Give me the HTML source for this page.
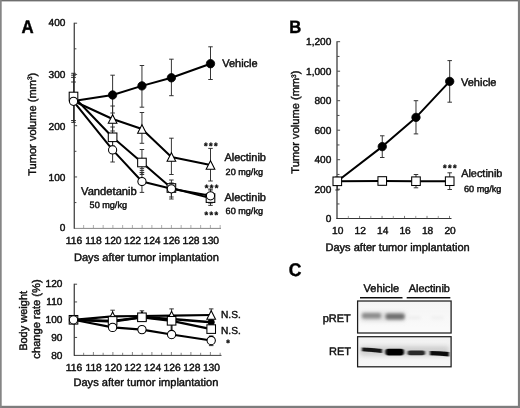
<!DOCTYPE html>
<html lang="en"><head><meta charset="utf-8"><title>Figure</title>
<style>html,body{margin:0;padding:0;background:#fff;}body{width:520px;height:408px;overflow:hidden;}svg{display:block;}text{font-family:"Liberation Sans", Arial, Helvetica, sans-serif;text-rendering:geometricPrecision;stroke:#0a0a0a;stroke-width:0.4px;}</style>
</head><body>
<svg width="520" height="408" viewBox="0 0 520 408">
<defs>
<filter id="b1" x="-30%" y="-100%" width="160%" height="300%"><feGaussianBlur stdDeviation="1.7 1.4"/></filter>
<filter id="b2" x="-30%" y="-100%" width="160%" height="300%"><feGaussianBlur stdDeviation="1.2 0.75"/></filter>
<linearGradient id="bg1" x1="0" y1="0" x2="0" y2="1"><stop offset="0" stop-color="#f4f4f4"/><stop offset="1" stop-color="#fbfbfb"/></linearGradient>
<linearGradient id="bg2" x1="0" y1="0" x2="0" y2="1"><stop offset="0" stop-color="#f1f1f1"/><stop offset="1" stop-color="#f7f7f7"/></linearGradient>
<filter id="soft" filterUnits="userSpaceOnUse" x="0" y="0" width="520" height="408"><feGaussianBlur stdDeviation="0.3"/></filter>
</defs>
<rect x="0" y="0" width="520" height="408" fill="#fff"/>
<line x1="74.25" y1="22.7" x2="74.25" y2="228.8" stroke="#2c2c2c" stroke-width="1.15"/>
<line x1="74" y1="228.4" x2="221" y2="228.4" stroke="#555" stroke-width="0.7"/>
<line x1="74.5" y1="202.575" x2="76.4" y2="202.575" stroke="#2a2a2a" stroke-width="0.85"/>
<line x1="74.5" y1="176.95" x2="77.1" y2="176.95" stroke="#2a2a2a" stroke-width="0.85"/>
<line x1="74.5" y1="151.325" x2="76.4" y2="151.325" stroke="#2a2a2a" stroke-width="0.85"/>
<line x1="74.5" y1="125.7" x2="77.1" y2="125.7" stroke="#2a2a2a" stroke-width="0.85"/>
<line x1="74.5" y1="100.075" x2="76.4" y2="100.075" stroke="#2a2a2a" stroke-width="0.85"/>
<line x1="74.5" y1="74.45" x2="77.1" y2="74.45" stroke="#2a2a2a" stroke-width="0.85"/>
<line x1="74.5" y1="48.825" x2="76.4" y2="48.825" stroke="#2a2a2a" stroke-width="0.85"/>
<line x1="74.5" y1="23.2" x2="77.1" y2="23.2" stroke="#2a2a2a" stroke-width="0.85"/>
<line x1="83.65" y1="228" x2="83.65" y2="225.0" stroke="#777" stroke-width="0.6"/>
<line x1="93.4" y1="228" x2="93.4" y2="225.0" stroke="#777" stroke-width="0.6"/>
<line x1="103.15" y1="228" x2="103.15" y2="225.0" stroke="#777" stroke-width="0.6"/>
<line x1="112.9" y1="228" x2="112.9" y2="225.0" stroke="#777" stroke-width="0.6"/>
<line x1="122.65" y1="228" x2="122.65" y2="225.0" stroke="#777" stroke-width="0.6"/>
<line x1="132.4" y1="228" x2="132.4" y2="225.0" stroke="#777" stroke-width="0.6"/>
<line x1="142.15" y1="228" x2="142.15" y2="225.0" stroke="#777" stroke-width="0.6"/>
<line x1="151.9" y1="228" x2="151.9" y2="225.0" stroke="#777" stroke-width="0.6"/>
<line x1="161.65" y1="228" x2="161.65" y2="225.0" stroke="#777" stroke-width="0.6"/>
<line x1="171.4" y1="228" x2="171.4" y2="225.0" stroke="#777" stroke-width="0.6"/>
<line x1="181.15" y1="228" x2="181.15" y2="225.0" stroke="#777" stroke-width="0.6"/>
<line x1="190.9" y1="228" x2="190.9" y2="225.0" stroke="#777" stroke-width="0.6"/>
<line x1="200.65" y1="228" x2="200.65" y2="225.0" stroke="#777" stroke-width="0.6"/>
<line x1="210.4" y1="228" x2="210.4" y2="225.0" stroke="#777" stroke-width="0.6"/>
<line x1="220.15" y1="228" x2="220.15" y2="225.0" stroke="#777" stroke-width="0.6"/>
<line x1="74.25" y1="283.7" x2="74.25" y2="355.8" stroke="#2c2c2c" stroke-width="1.15"/>
<line x1="74" y1="355.4" x2="221.5" y2="355.4" stroke="#2a2a2a" stroke-width="0.9"/>
<line x1="74.5" y1="337.45" x2="77.1" y2="337.45" stroke="#2a2a2a" stroke-width="0.85"/>
<line x1="74.5" y1="319.7" x2="77.1" y2="319.7" stroke="#2a2a2a" stroke-width="0.85"/>
<line x1="74.5" y1="301.95" x2="77.1" y2="301.95" stroke="#2a2a2a" stroke-width="0.85"/>
<line x1="74.5" y1="284.2" x2="77.1" y2="284.2" stroke="#2a2a2a" stroke-width="0.85"/>
<line x1="83.65" y1="355" x2="83.65" y2="352.8" stroke="#555" stroke-width="0.7"/>
<line x1="93.4" y1="355" x2="93.4" y2="352.0" stroke="#555" stroke-width="0.7"/>
<line x1="103.15" y1="355" x2="103.15" y2="352.8" stroke="#555" stroke-width="0.7"/>
<line x1="112.9" y1="355" x2="112.9" y2="352.0" stroke="#555" stroke-width="0.7"/>
<line x1="122.65" y1="355" x2="122.65" y2="352.8" stroke="#555" stroke-width="0.7"/>
<line x1="132.4" y1="355" x2="132.4" y2="352.0" stroke="#555" stroke-width="0.7"/>
<line x1="142.15" y1="355" x2="142.15" y2="352.8" stroke="#555" stroke-width="0.7"/>
<line x1="151.9" y1="355" x2="151.9" y2="352.0" stroke="#555" stroke-width="0.7"/>
<line x1="161.65" y1="355" x2="161.65" y2="352.8" stroke="#555" stroke-width="0.7"/>
<line x1="171.4" y1="355" x2="171.4" y2="352.0" stroke="#555" stroke-width="0.7"/>
<line x1="181.15" y1="355" x2="181.15" y2="352.8" stroke="#555" stroke-width="0.7"/>
<line x1="190.9" y1="355" x2="190.9" y2="352.0" stroke="#555" stroke-width="0.7"/>
<line x1="200.65" y1="355" x2="200.65" y2="352.8" stroke="#555" stroke-width="0.7"/>
<line x1="210.4" y1="355" x2="210.4" y2="352.0" stroke="#555" stroke-width="0.7"/>
<line x1="220.15" y1="355" x2="220.15" y2="352.8" stroke="#555" stroke-width="0.7"/>
<line x1="337.0" y1="41.2" x2="337.0" y2="219.0" stroke="#1a1a1a" stroke-width="1.1"/>
<line x1="336.5" y1="218.5" x2="451.5" y2="218.5" stroke="#2a2a2a" stroke-width="0.95"/>
<line x1="337.3" y1="203.95" x2="339.5" y2="203.95" stroke="#2a2a2a" stroke-width="0.85"/>
<line x1="337.3" y1="189.2" x2="340.1" y2="189.2" stroke="#2a2a2a" stroke-width="0.85"/>
<line x1="337.3" y1="174.45" x2="339.5" y2="174.45" stroke="#2a2a2a" stroke-width="0.85"/>
<line x1="337.3" y1="159.7" x2="340.1" y2="159.7" stroke="#2a2a2a" stroke-width="0.85"/>
<line x1="337.3" y1="144.95" x2="339.5" y2="144.95" stroke="#2a2a2a" stroke-width="0.85"/>
<line x1="337.3" y1="130.2" x2="340.1" y2="130.2" stroke="#2a2a2a" stroke-width="0.85"/>
<line x1="337.3" y1="115.45" x2="339.5" y2="115.45" stroke="#2a2a2a" stroke-width="0.85"/>
<line x1="337.3" y1="100.7" x2="340.1" y2="100.7" stroke="#2a2a2a" stroke-width="0.85"/>
<line x1="337.3" y1="85.95" x2="339.5" y2="85.95" stroke="#2a2a2a" stroke-width="0.85"/>
<line x1="337.3" y1="71.2" x2="340.1" y2="71.2" stroke="#2a2a2a" stroke-width="0.85"/>
<line x1="337.3" y1="56.45" x2="339.5" y2="56.45" stroke="#2a2a2a" stroke-width="0.85"/>
<line x1="337.3" y1="41.7" x2="340.1" y2="41.7" stroke="#2a2a2a" stroke-width="0.85"/>
<line x1="348.34000000000003" y1="218.5" x2="348.34000000000003" y2="215.9" stroke="#777" stroke-width="0.7"/>
<line x1="359.58000000000004" y1="218.5" x2="359.58000000000004" y2="215.9" stroke="#444" stroke-width="0.7"/>
<line x1="370.82" y1="218.5" x2="370.82" y2="215.9" stroke="#777" stroke-width="0.7"/>
<line x1="382.06" y1="218.5" x2="382.06" y2="215.9" stroke="#444" stroke-width="0.7"/>
<line x1="393.3" y1="218.5" x2="393.3" y2="215.9" stroke="#777" stroke-width="0.7"/>
<line x1="404.54" y1="218.5" x2="404.54" y2="215.9" stroke="#444" stroke-width="0.7"/>
<line x1="415.78000000000003" y1="218.5" x2="415.78000000000003" y2="215.9" stroke="#777" stroke-width="0.7"/>
<line x1="427.02000000000004" y1="218.5" x2="427.02000000000004" y2="215.9" stroke="#444" stroke-width="0.7"/>
<line x1="438.26000000000005" y1="218.5" x2="438.26000000000005" y2="215.9" stroke="#777" stroke-width="0.7"/>
<line x1="449.50000000000006" y1="218.5" x2="449.50000000000006" y2="215.9" stroke="#444" stroke-width="0.7"/>
<g filter="url(#soft)">
<rect x="0" y="0" width="520" height="1.4" fill="#6e6e6e"/>
<rect x="0" y="405.8" width="520" height="2.2" fill="#7d7d7d"/>
<rect x="0" y="0" width="1.7" height="408" fill="#858585"/>
<rect x="517.9" y="0" width="2.1" height="408" fill="#7d7d7d"/>
<text transform="translate(21.6,32.7) scale(0.99,1.07)" font-size="17.0" font-weight="bold" fill="#000">A</text>
<text x="65.4" y="231.4" font-size="10.1" text-anchor="end" font-weight="normal" fill="#0a0a0a" >0</text>
<text x="65.4" y="180.95" font-size="10.1" text-anchor="end" font-weight="normal" fill="#0a0a0a" >100</text>
<text x="65.4" y="129.5" font-size="10.1" text-anchor="end" font-weight="normal" fill="#0a0a0a" >200</text>
<text x="65.4" y="77.95" font-size="10.1" text-anchor="end" font-weight="normal" fill="#0a0a0a" >300</text>
<text x="65.4" y="26.3" font-size="10.1" text-anchor="end" font-weight="normal" fill="#0a0a0a" >400</text>
<text x="74.0" y="244" font-size="10.3" text-anchor="middle" font-weight="normal" fill="#0a0a0a" >116</text>
<text x="93.5" y="244" font-size="10.3" text-anchor="middle" font-weight="normal" fill="#0a0a0a" >118</text>
<text x="113.0" y="244" font-size="10.3" text-anchor="middle" font-weight="normal" fill="#0a0a0a" >120</text>
<text x="132.5" y="244" font-size="10.3" text-anchor="middle" font-weight="normal" fill="#0a0a0a" >122</text>
<text x="152.0" y="244" font-size="10.3" text-anchor="middle" font-weight="normal" fill="#0a0a0a" >124</text>
<text x="171.5" y="244" font-size="10.3" text-anchor="middle" font-weight="normal" fill="#0a0a0a" >126</text>
<text x="191.0" y="244" font-size="10.3" text-anchor="middle" font-weight="normal" fill="#0a0a0a" >128</text>
<text x="210.5" y="244" font-size="10.3" text-anchor="middle" font-weight="normal" fill="#0a0a0a" >130</text>
<text x="146.4" y="260.8" font-size="11.1" text-anchor="middle" font-weight="normal" fill="#0a0a0a" >Days after tumor implantation</text>
<text transform="translate(35.7,124.3) rotate(-90)" font-size="11.1" text-anchor="middle" fill="#111" >Tumor volume (mm<tspan font-size="6.5" dy="-3.5">3</tspan><tspan dy="3.5">)</tspan></text>
<line x1="73.5" y1="73.3" x2="73.5" y2="122.4" stroke="#2a2a2a" stroke-width="0.95" />
<line x1="71.25" y1="73.3" x2="75.75" y2="73.3" stroke="#2a2a2a" stroke-width="0.95" />
<line x1="71.25" y1="122.4" x2="75.75" y2="122.4" stroke="#2a2a2a" stroke-width="0.95" />
<line x1="71.1" y1="75.2" x2="75.9" y2="75.2" stroke="#2a2a2a" stroke-width="0.95" />
<line x1="71.1" y1="77.4" x2="75.9" y2="77.4" stroke="#2a2a2a" stroke-width="0.95" />
<line x1="71.1" y1="82" x2="75.9" y2="82" stroke="#2a2a2a" stroke-width="0.95" />
<line x1="71.1" y1="120.5" x2="75.9" y2="120.5" stroke="#2a2a2a" stroke-width="0.95" />
<line x1="112.6" y1="75.2" x2="112.6" y2="113" stroke="#2a2a2a" stroke-width="0.95" />
<line x1="110.35" y1="75.2" x2="114.85" y2="75.2" stroke="#2a2a2a" stroke-width="0.95" />
<line x1="110.35" y1="113" x2="114.85" y2="113" stroke="#2a2a2a" stroke-width="0.95" />
<line x1="141.95" y1="65.5" x2="141.95" y2="107.2" stroke="#2a2a2a" stroke-width="0.95" />
<line x1="139.7" y1="65.5" x2="144.2" y2="65.5" stroke="#2a2a2a" stroke-width="0.95" />
<line x1="139.7" y1="107.2" x2="144.2" y2="107.2" stroke="#2a2a2a" stroke-width="0.95" />
<line x1="171.4" y1="59.2" x2="171.4" y2="95.7" stroke="#2a2a2a" stroke-width="0.95" />
<line x1="169.15" y1="59.2" x2="173.65" y2="59.2" stroke="#2a2a2a" stroke-width="0.95" />
<line x1="169.15" y1="95.7" x2="173.65" y2="95.7" stroke="#2a2a2a" stroke-width="0.95" />
<line x1="210.5" y1="46.8" x2="210.5" y2="79.5" stroke="#2a2a2a" stroke-width="0.95" />
<line x1="208.25" y1="46.8" x2="212.75" y2="46.8" stroke="#2a2a2a" stroke-width="0.95" />
<line x1="208.25" y1="79.5" x2="212.75" y2="79.5" stroke="#2a2a2a" stroke-width="0.95" />
<line x1="112.6" y1="106" x2="112.6" y2="131" stroke="#2a2a2a" stroke-width="0.95" />
<line x1="110.35" y1="106" x2="114.85" y2="106" stroke="#2a2a2a" stroke-width="0.95" />
<line x1="110.35" y1="131" x2="114.85" y2="131" stroke="#2a2a2a" stroke-width="0.95" />
<line x1="141.95" y1="112.5" x2="141.95" y2="143.3" stroke="#2a2a2a" stroke-width="0.95" />
<line x1="139.7" y1="112.5" x2="144.2" y2="112.5" stroke="#2a2a2a" stroke-width="0.95" />
<line x1="139.7" y1="143.3" x2="144.2" y2="143.3" stroke="#2a2a2a" stroke-width="0.95" />
<line x1="171.4" y1="138.2" x2="171.4" y2="174.5" stroke="#2a2a2a" stroke-width="0.95" />
<line x1="169.15" y1="138.2" x2="173.65" y2="138.2" stroke="#2a2a2a" stroke-width="0.95" />
<line x1="169.15" y1="174.5" x2="173.65" y2="174.5" stroke="#2a2a2a" stroke-width="0.95" />
<line x1="210.5" y1="148.4" x2="210.5" y2="181" stroke="#2a2a2a" stroke-width="0.95" />
<line x1="208.25" y1="148.4" x2="212.75" y2="148.4" stroke="#2a2a2a" stroke-width="0.95" />
<line x1="208.25" y1="181" x2="212.75" y2="181" stroke="#2a2a2a" stroke-width="0.95" />
<line x1="112.6" y1="127" x2="112.6" y2="146" stroke="#2a2a2a" stroke-width="0.95" />
<line x1="110.35" y1="127" x2="114.85" y2="127" stroke="#2a2a2a" stroke-width="0.95" />
<line x1="110.35" y1="146" x2="114.85" y2="146" stroke="#2a2a2a" stroke-width="0.95" />
<line x1="141.95" y1="149.5" x2="141.95" y2="174.5" stroke="#2a2a2a" stroke-width="0.95" />
<line x1="139.7" y1="149.5" x2="144.2" y2="149.5" stroke="#2a2a2a" stroke-width="0.95" />
<line x1="139.7" y1="174.5" x2="144.2" y2="174.5" stroke="#2a2a2a" stroke-width="0.95" />
<line x1="139.75" y1="168.7" x2="144.14999999999998" y2="168.7" stroke="#2a2a2a" stroke-width="0.95" />
<line x1="139.75" y1="170.6" x2="144.14999999999998" y2="170.6" stroke="#2a2a2a" stroke-width="0.95" />
<line x1="139.75" y1="172.6" x2="144.14999999999998" y2="172.6" stroke="#2a2a2a" stroke-width="0.95" />
<line x1="171.4" y1="180" x2="171.4" y2="197" stroke="#2a2a2a" stroke-width="0.95" />
<line x1="169.15" y1="180" x2="173.65" y2="180" stroke="#2a2a2a" stroke-width="0.95" />
<line x1="169.15" y1="197" x2="173.65" y2="197" stroke="#2a2a2a" stroke-width="0.95" />
<line x1="210.5" y1="190" x2="210.5" y2="205.4" stroke="#2a2a2a" stroke-width="0.95" />
<line x1="208.25" y1="190" x2="212.75" y2="190" stroke="#2a2a2a" stroke-width="0.95" />
<line x1="208.25" y1="205.4" x2="212.75" y2="205.4" stroke="#2a2a2a" stroke-width="0.95" />
<line x1="112.6" y1="140" x2="112.6" y2="162" stroke="#2a2a2a" stroke-width="0.95" />
<line x1="110.35" y1="140" x2="114.85" y2="140" stroke="#2a2a2a" stroke-width="0.95" />
<line x1="110.35" y1="162" x2="114.85" y2="162" stroke="#2a2a2a" stroke-width="0.95" />
<line x1="141.95" y1="172.6" x2="141.95" y2="192.4" stroke="#2a2a2a" stroke-width="0.95" />
<line x1="139.7" y1="172.6" x2="144.2" y2="172.6" stroke="#2a2a2a" stroke-width="0.95" />
<line x1="139.7" y1="192.4" x2="144.2" y2="192.4" stroke="#2a2a2a" stroke-width="0.95" />
<line x1="171.4" y1="183" x2="171.4" y2="199" stroke="#2a2a2a" stroke-width="0.95" />
<line x1="169.15" y1="183" x2="173.65" y2="183" stroke="#2a2a2a" stroke-width="0.95" />
<line x1="169.15" y1="199" x2="173.65" y2="199" stroke="#2a2a2a" stroke-width="0.95" />
<line x1="210.5" y1="189" x2="210.5" y2="203" stroke="#2a2a2a" stroke-width="0.95" />
<line x1="208.25" y1="189" x2="212.75" y2="189" stroke="#2a2a2a" stroke-width="0.95" />
<line x1="208.25" y1="203" x2="212.75" y2="203" stroke="#2a2a2a" stroke-width="0.95" />
<polyline points="73.5,101.0 112.6,95 141.95,85.9 171.4,77.8 210.5,63.7" fill="none" stroke="#000" stroke-width="2.0" stroke-linejoin="round" stroke-linecap="round"/>
<polyline points="73.5,101.0 112.6,119 141.95,129 171.4,157 210.5,165" fill="none" stroke="#000" stroke-width="2.0" stroke-linejoin="round" stroke-linecap="round"/>
<polyline points="73.5,96.5 112.6,137.3 141.95,162.5 171.4,188.0 210.5,198.1" fill="none" stroke="#000" stroke-width="2.0" stroke-linejoin="round" stroke-linecap="round"/>
<polyline points="73.5,101.3 112.6,149.9 141.95,181.5 171.4,188.8 210.5,195.8" fill="none" stroke="#000" stroke-width="2.0" stroke-linejoin="round" stroke-linecap="round"/>
<polygon points="112.6,114.7 108.25,123.3 116.94999999999999,123.3" fill="#fff" stroke="#000" stroke-width="1.05" stroke-linejoin="miter"/>
<polygon points="141.95,124.7 137.6,133.3 146.29999999999998,133.3" fill="#fff" stroke="#000" stroke-width="1.05" stroke-linejoin="miter"/>
<polygon points="171.4,152.7 167.05,161.3 175.75,161.3" fill="#fff" stroke="#000" stroke-width="1.05" stroke-linejoin="miter"/>
<polygon points="210.5,160.7 206.15,169.3 214.85,169.3" fill="#fff" stroke="#000" stroke-width="1.05" stroke-linejoin="miter"/>
<rect x="69.2" y="92.2" width="8.6" height="8.6" fill="#fff" stroke="#000" stroke-width="1.05"/>
<rect x="108.3" y="133.0" width="8.6" height="8.6" fill="#fff" stroke="#000" stroke-width="1.05"/>
<rect x="137.64999999999998" y="158.2" width="8.6" height="8.6" fill="#fff" stroke="#000" stroke-width="1.05"/>
<rect x="167.1" y="183.7" width="8.6" height="8.6" fill="#fff" stroke="#000" stroke-width="1.05"/>
<rect x="206.2" y="193.79999999999998" width="8.6" height="8.6" fill="#fff" stroke="#000" stroke-width="1.05"/>
<circle cx="73.5" cy="101.3" r="4.1" fill="#fff" stroke="#000" stroke-width="1.05"/>
<circle cx="112.6" cy="149.9" r="4.1" fill="#fff" stroke="#000" stroke-width="1.05"/>
<circle cx="141.95" cy="181.5" r="4.1" fill="#fff" stroke="#000" stroke-width="1.05"/>
<circle cx="171.4" cy="188.8" r="4.1" fill="#fff" stroke="#000" stroke-width="1.05"/>
<circle cx="210.5" cy="195.8" r="4.1" fill="#fff" stroke="#000" stroke-width="1.05"/>
<circle cx="112.6" cy="95" r="4.2" fill="#000" stroke="#000" stroke-width="0.8"/>
<circle cx="141.95" cy="85.9" r="4.2" fill="#000" stroke="#000" stroke-width="0.8"/>
<circle cx="171.4" cy="77.8" r="4.2" fill="#000" stroke="#000" stroke-width="0.8"/>
<circle cx="210.5" cy="63.7" r="4.2" fill="#000" stroke="#000" stroke-width="0.8"/>
<text x="222.2" y="66.5" font-size="11" text-anchor="start" font-weight="normal" fill="#0a0a0a" >Vehicle</text>
<text x="224.4" y="161.2" font-size="11" text-anchor="start" font-weight="normal" fill="#0a0a0a" >Alectinib</text>
<text x="225.6" y="174.5" font-size="9.1" text-anchor="start" font-weight="normal" fill="#0a0a0a" >20 mg/kg</text>
<text x="224.4" y="201.3" font-size="11" text-anchor="start" font-weight="normal" fill="#0a0a0a" >Alectinib</text>
<text x="225.6" y="214.4" font-size="9.1" text-anchor="start" font-weight="normal" fill="#0a0a0a" >60 mg/kg</text>
<text x="81.0" y="195.0" font-size="11.2" text-anchor="start" font-weight="normal" fill="#0a0a0a" >Vandetanib</text>
<text x="89.6" y="208.0" font-size="9.1" text-anchor="start" font-weight="normal" fill="#0a0a0a" >50 mg/kg</text>
<text x="211.6" y="148.6" font-size="9.2" text-anchor="middle" font-weight="bold" fill="#0a0a0a" letter-spacing="1.5">***</text>
<text x="212.3" y="190.8" font-size="9.2" text-anchor="middle" font-weight="bold" fill="#0a0a0a" letter-spacing="1.5">***</text>
<text x="212.0" y="217.6" font-size="9.2" text-anchor="middle" font-weight="bold" fill="#0a0a0a" letter-spacing="1.5">***</text>
<text x="62.4" y="358.7" font-size="10.1" text-anchor="end" font-weight="normal" fill="#0a0a0a" >80</text>
<text x="62.4" y="340.95" font-size="10.1" text-anchor="end" font-weight="normal" fill="#0a0a0a" >90</text>
<text x="62.4" y="323.2" font-size="10.1" text-anchor="end" font-weight="normal" fill="#0a0a0a" >100</text>
<text x="62.4" y="305.45" font-size="10.1" text-anchor="end" font-weight="normal" fill="#0a0a0a" >110</text>
<text x="62.4" y="287.09999999999997" font-size="10.1" text-anchor="end" font-weight="normal" fill="#0a0a0a" >120</text>
<text x="74.0" y="370.7" font-size="10.3" text-anchor="middle" font-weight="normal" fill="#0a0a0a" >116</text>
<text x="93.64" y="370.7" font-size="10.3" text-anchor="middle" font-weight="normal" fill="#0a0a0a" >118</text>
<text x="113.28" y="370.7" font-size="10.3" text-anchor="middle" font-weight="normal" fill="#0a0a0a" >120</text>
<text x="132.92" y="370.7" font-size="10.3" text-anchor="middle" font-weight="normal" fill="#0a0a0a" >122</text>
<text x="152.56" y="370.7" font-size="10.3" text-anchor="middle" font-weight="normal" fill="#0a0a0a" >124</text>
<text x="172.2" y="370.7" font-size="10.3" text-anchor="middle" font-weight="normal" fill="#0a0a0a" >126</text>
<text x="191.84" y="370.7" font-size="10.3" text-anchor="middle" font-weight="normal" fill="#0a0a0a" >128</text>
<text x="211.48" y="370.7" font-size="10.3" text-anchor="middle" font-weight="normal" fill="#0a0a0a" >130</text>
<text x="145.9" y="385.9" font-size="11.1" text-anchor="middle" font-weight="normal" fill="#0a0a0a" >Days after tumor implantation</text>
<text transform="translate(26.9,320.9) rotate(-90)" font-size="11.0" text-anchor="middle" fill="#111" >Body weight</text>
<text transform="translate(40.3,319.0) rotate(-90)" font-size="11.15" text-anchor="middle" fill="#111" >change rate (%)</text>
<line x1="112.6" y1="310.2" x2="112.6" y2="318" stroke="#2a2a2a" stroke-width="0.95" />
<line x1="110.35" y1="310.2" x2="114.85" y2="310.2" stroke="#2a2a2a" stroke-width="0.95" />
<line x1="110.35" y1="318" x2="114.85" y2="318" stroke="#2a2a2a" stroke-width="0.95" />
<line x1="141.95" y1="310.8" x2="141.95" y2="320" stroke="#2a2a2a" stroke-width="0.95" />
<line x1="139.7" y1="310.8" x2="144.2" y2="310.8" stroke="#2a2a2a" stroke-width="0.95" />
<line x1="139.7" y1="320" x2="144.2" y2="320" stroke="#2a2a2a" stroke-width="0.95" />
<line x1="171.6" y1="308.9" x2="171.6" y2="318" stroke="#2a2a2a" stroke-width="0.95" />
<line x1="169.35" y1="308.9" x2="173.85" y2="308.9" stroke="#2a2a2a" stroke-width="0.95" />
<line x1="169.35" y1="318" x2="173.85" y2="318" stroke="#2a2a2a" stroke-width="0.95" />
<line x1="211.2" y1="308.9" x2="211.2" y2="318" stroke="#2a2a2a" stroke-width="0.95" />
<line x1="208.95" y1="308.9" x2="213.45" y2="308.9" stroke="#2a2a2a" stroke-width="0.95" />
<line x1="208.95" y1="318" x2="213.45" y2="318" stroke="#2a2a2a" stroke-width="0.95" />
<line x1="171.6" y1="324" x2="171.6" y2="331" stroke="#111" stroke-width="1.8" />
<line x1="171.6" y1="322" x2="171.6" y2="338" stroke="#2a2a2a" stroke-width="0.95" />
<line x1="169.35" y1="322" x2="173.85" y2="322" stroke="#2a2a2a" stroke-width="0.95" />
<line x1="169.35" y1="338" x2="173.85" y2="338" stroke="#2a2a2a" stroke-width="0.95" />
<line x1="211.2" y1="336" x2="211.2" y2="345.6" stroke="#2a2a2a" stroke-width="0.95" />
<line x1="208.95" y1="336" x2="213.45" y2="336" stroke="#2a2a2a" stroke-width="0.95" />
<line x1="208.95" y1="345.6" x2="213.45" y2="345.6" stroke="#2a2a2a" stroke-width="0.95" />
<polyline points="73.5,319.8 112.6,321.6 141.95,317.2 171.6,319 211.2,322.2" fill="none" stroke="#000" stroke-width="2.4" stroke-linejoin="round" stroke-linecap="round"/>
<polyline points="73.5,319.8 112.6,316.3 141.95,316.0 171.6,315.6 211.2,315" fill="none" stroke="#000" stroke-width="2.2" stroke-linejoin="round" stroke-linecap="round"/>
<polyline points="73.5,319.8 112.6,320.9 141.95,317.3 171.6,320.8 211.2,329.1" fill="none" stroke="#000" stroke-width="2.2" stroke-linejoin="round" stroke-linecap="round"/>
<polyline points="73.5,319.8 112.6,327.4 141.95,329.6 171.6,334.5 211.2,340.5" fill="none" stroke="#000" stroke-width="2.1" stroke-linejoin="round" stroke-linecap="round"/>
<circle cx="211.2" cy="322.2" r="3.2" fill="#000" stroke="#000" stroke-width="0.6"/>
<polygon points="112.6,312.0 108.25,320.6 116.94999999999999,320.6" fill="#fff" stroke="#000" stroke-width="1.05" stroke-linejoin="miter"/>
<polygon points="141.95,311.7 137.6,320.3 146.29999999999998,320.3" fill="#fff" stroke="#000" stroke-width="1.05" stroke-linejoin="miter"/>
<polygon points="171.6,311.3 167.25,319.90000000000003 175.95,319.90000000000003" fill="#fff" stroke="#000" stroke-width="1.05" stroke-linejoin="miter"/>
<polygon points="211.2,310.7 206.85,319.3 215.54999999999998,319.3" fill="#fff" stroke="#000" stroke-width="1.05" stroke-linejoin="miter"/>
<rect x="69.2" y="315.5" width="8.6" height="8.6" fill="#fff" stroke="#000" stroke-width="1.05"/>
<rect x="108.3" y="316.59999999999997" width="8.6" height="8.6" fill="#fff" stroke="#000" stroke-width="1.05"/>
<rect x="137.64999999999998" y="313.0" width="8.6" height="8.6" fill="#fff" stroke="#000" stroke-width="1.05"/>
<rect x="167.29999999999998" y="316.5" width="8.6" height="8.6" fill="#fff" stroke="#000" stroke-width="1.05"/>
<rect x="206.89999999999998" y="324.8" width="8.6" height="8.6" fill="#fff" stroke="#000" stroke-width="1.05"/>
<circle cx="73.5" cy="319.8" r="4.15" fill="#fff" stroke="#000" stroke-width="1.05"/>
<circle cx="112.6" cy="327.4" r="4.15" fill="#fff" stroke="#000" stroke-width="1.05"/>
<circle cx="141.95" cy="329.6" r="4.15" fill="#fff" stroke="#000" stroke-width="1.05"/>
<circle cx="171.6" cy="334.5" r="4.15" fill="#fff" stroke="#000" stroke-width="1.05"/>
<circle cx="211.2" cy="340.5" r="4.15" fill="#fff" stroke="#000" stroke-width="1.05"/>
<text x="221.0" y="317.5" font-size="10.15" text-anchor="start" font-weight="normal" fill="#0a0a0a" >N.S.</text>
<text x="221.0" y="333.5" font-size="10.15" text-anchor="start" font-weight="normal" fill="#0a0a0a" >N.S.</text>
<text x="228" y="346.0" font-size="9.2" text-anchor="middle" font-weight="bold" fill="#0a0a0a" >*</text>
<text transform="translate(289.2,32.6) scale(0.99,1.07)" font-size="16.8" font-weight="bold" fill="#000">B</text>
<text x="331.3" y="222.2" font-size="10.1" text-anchor="end" font-weight="normal" fill="#0a0a0a" >0</text>
<text x="331.3" y="192.7" font-size="10.1" text-anchor="end" font-weight="normal" fill="#0a0a0a" >200</text>
<text x="331.3" y="163.2" font-size="10.1" text-anchor="end" font-weight="normal" fill="#0a0a0a" >400</text>
<text x="331.3" y="133.7" font-size="10.1" text-anchor="end" font-weight="normal" fill="#0a0a0a" >600</text>
<text x="331.3" y="104.2" font-size="10.1" text-anchor="end" font-weight="normal" fill="#0a0a0a" >800</text>
<text x="331.3" y="74.7" font-size="10.1" text-anchor="end" font-weight="normal" fill="#0a0a0a" >1,000</text>
<text x="331.3" y="45.2" font-size="10.1" text-anchor="end" font-weight="normal" fill="#0a0a0a" >1,200</text>
<text x="337.7" y="233.7" font-size="10.2" text-anchor="middle" font-weight="normal" fill="#0a0a0a" >10</text>
<text x="360.18" y="233.7" font-size="10.2" text-anchor="middle" font-weight="normal" fill="#0a0a0a" >12</text>
<text x="382.65999999999997" y="233.7" font-size="10.2" text-anchor="middle" font-weight="normal" fill="#0a0a0a" >14</text>
<text x="405.14" y="233.7" font-size="10.2" text-anchor="middle" font-weight="normal" fill="#0a0a0a" >16</text>
<text x="427.62" y="233.7" font-size="10.2" text-anchor="middle" font-weight="normal" fill="#0a0a0a" >18</text>
<text x="450.1" y="233.7" font-size="10.2" text-anchor="middle" font-weight="normal" fill="#0a0a0a" >20</text>
<text x="397.6" y="250.8" font-size="11.05" text-anchor="middle" font-weight="normal" fill="#0a0a0a" >Days after tumor implantation</text>
<text transform="translate(299.0,122.1) rotate(-90)" font-size="11.1" text-anchor="middle" fill="#111" >Tumor volume (mm<tspan font-size="6.5" dy="-3.5">3</tspan><tspan dy="3.5">)</tspan></text>
<line x1="382.26" y1="135.8" x2="382.26" y2="157.5" stroke="#2a2a2a" stroke-width="0.95" />
<line x1="380.01" y1="135.8" x2="384.51" y2="135.8" stroke="#2a2a2a" stroke-width="0.95" />
<line x1="380.01" y1="157.5" x2="384.51" y2="157.5" stroke="#2a2a2a" stroke-width="0.95" />
<line x1="415.98" y1="100.7" x2="415.98" y2="133.9" stroke="#2a2a2a" stroke-width="0.95" />
<line x1="413.73" y1="100.7" x2="418.23" y2="100.7" stroke="#2a2a2a" stroke-width="0.95" />
<line x1="413.73" y1="133.9" x2="418.23" y2="133.9" stroke="#2a2a2a" stroke-width="0.95" />
<line x1="449.70000000000005" y1="60.6" x2="449.70000000000005" y2="102.2" stroke="#2a2a2a" stroke-width="0.95" />
<line x1="447.45000000000005" y1="60.6" x2="451.95000000000005" y2="60.6" stroke="#2a2a2a" stroke-width="0.95" />
<line x1="447.45000000000005" y1="102.2" x2="451.95000000000005" y2="102.2" stroke="#2a2a2a" stroke-width="0.95" />
<line x1="337.3" y1="177" x2="337.3" y2="190" stroke="#2a2a2a" stroke-width="0.95" />
<line x1="335.3" y1="177" x2="339.3" y2="177" stroke="#2a2a2a" stroke-width="0.95" />
<line x1="335.3" y1="190" x2="339.3" y2="190" stroke="#2a2a2a" stroke-width="0.95" />
<line x1="382.26" y1="177.5" x2="382.26" y2="185" stroke="#2a2a2a" stroke-width="0.95" />
<line x1="380.01" y1="177.5" x2="384.51" y2="177.5" stroke="#2a2a2a" stroke-width="0.95" />
<line x1="380.01" y1="185" x2="384.51" y2="185" stroke="#2a2a2a" stroke-width="0.95" />
<line x1="415.98" y1="174.5" x2="415.98" y2="187.8" stroke="#2a2a2a" stroke-width="0.95" />
<line x1="413.73" y1="174.5" x2="418.23" y2="174.5" stroke="#2a2a2a" stroke-width="0.95" />
<line x1="413.73" y1="187.8" x2="418.23" y2="187.8" stroke="#2a2a2a" stroke-width="0.95" />
<line x1="449.70000000000005" y1="172.8" x2="449.70000000000005" y2="189.5" stroke="#2a2a2a" stroke-width="0.95" />
<line x1="447.45000000000005" y1="172.8" x2="451.95000000000005" y2="172.8" stroke="#2a2a2a" stroke-width="0.95" />
<line x1="447.45000000000005" y1="189.5" x2="451.95000000000005" y2="189.5" stroke="#2a2a2a" stroke-width="0.95" />
<polyline points="337.3,181.3 382.26,146.6 415.98,117.4 449.70000000000005,81.4" fill="none" stroke="#000" stroke-width="2.0" stroke-linejoin="round" stroke-linecap="round"/>
<polyline points="337.3,181.3 382.26,181 415.98,181.2 449.70000000000005,181.2" fill="none" stroke="#000" stroke-width="2.0" stroke-linejoin="round" stroke-linecap="round"/>
<circle cx="382.26" cy="146.6" r="4.2" fill="#000" stroke="#000" stroke-width="0.8"/>
<circle cx="415.98" cy="117.4" r="4.2" fill="#000" stroke="#000" stroke-width="0.8"/>
<circle cx="449.70000000000005" cy="81.4" r="4.2" fill="#000" stroke="#000" stroke-width="0.8"/>
<rect x="333.0" y="177.0" width="8.6" height="8.6" fill="#fff" stroke="#000" stroke-width="1.05"/>
<rect x="377.96" y="176.7" width="8.6" height="8.6" fill="#fff" stroke="#000" stroke-width="1.05"/>
<rect x="411.68" y="176.89999999999998" width="8.6" height="8.6" fill="#fff" stroke="#000" stroke-width="1.05"/>
<rect x="445.40000000000003" y="176.89999999999998" width="8.6" height="8.6" fill="#fff" stroke="#000" stroke-width="1.05"/>
<text x="461" y="85.7" font-size="11" text-anchor="start" font-weight="normal" fill="#0a0a0a" >Vehicle</text>
<text x="461.2" y="177.1" font-size="10.9" text-anchor="start" font-weight="normal" fill="#0a0a0a" >Alectinib</text>
<text x="464.0" y="191.5" font-size="9.1" text-anchor="start" font-weight="normal" fill="#0a0a0a" >60 mg/kg</text>
<text x="450.5" y="171.4" font-size="9.2" text-anchor="middle" font-weight="bold" fill="#0a0a0a" letter-spacing="1.5">***</text>
<text transform="translate(288.7,276.4) scale(1.03,1.07)" font-size="17.0" font-weight="bold" fill="#000">C</text>
<text x="381.3" y="292.2" font-size="11" text-anchor="middle" font-weight="normal" fill="#0a0a0a" >Vehicle</text>
<text x="429.3" y="292.2" font-size="10.9" text-anchor="middle" font-weight="normal" fill="#0a0a0a" >Alectinib</text>
<line x1="360" y1="297.7" x2="402.5" y2="297.7" stroke="#111" stroke-width="1.5" />
<line x1="406.7" y1="297.7" x2="450.3" y2="297.7" stroke="#111" stroke-width="1.5" />
<text x="350.8" y="321.7" font-size="11" text-anchor="end" font-weight="normal" fill="#0a0a0a" >pRET</text>
<text x="351.0" y="355.0" font-size="11" text-anchor="end" font-weight="normal" fill="#0a0a0a" >RET</text>
<rect x="357.6" y="301.0" width="93.5" height="32.0" fill="url(#bg1)" stroke="#1c1c1c" stroke-width="1.25"/>
<rect x="357.6" y="336.7" width="93.5" height="30.1" fill="url(#bg2)" stroke="#1c1c1c" stroke-width="1.25"/>
<filter id="b3" x="-30%" y="-150%" width="160%" height="400%"><feGaussianBlur stdDeviation="2.4 2.0"/></filter>
<clipPath id="c1"><rect x="358.2" y="301.6" width="92.3" height="30.8"/></clipPath>
<clipPath id="c2"><rect x="358.2" y="337.3" width="92.3" height="28.9"/></clipPath>
<g clip-path="url(#c1)">
<g filter="url(#b3)" opacity="0.55">
<rect x="361" y="312" width="44" height="9" fill="#c4c4c4"/>
</g>
<g filter="url(#b1)">
<rect x="362.0" y="313.0" width="19" height="5.6" rx="2" fill="#8c8c8c"/>
<rect x="385.6" y="313.4" width="19" height="6.0" rx="2" fill="#6e6e6e"/>
<rect x="408" y="316.2" width="13" height="3.0" rx="1.5" fill="#ededed"/>
<rect x="431" y="316.2" width="13" height="3.0" rx="1.5" fill="#efefef"/>
</g>
</g>
<g clip-path="url(#c2)">
<g filter="url(#b3)" opacity="0.6">
<rect x="360" y="346" width="89" height="10" fill="#b8b8b8"/>
</g>
<g filter="url(#b2)">
<path d="M362.0,347.4 L372,347.9 L382.0,349.0 L382.0,352.9 L372,352.0 L362.0,351.2 Z" fill="#161616"/>
<rect x="385.4" y="348.8" width="18.6" height="6.6" rx="2.8" fill="#020202"/>
<rect x="407.6" y="350.6" width="17.4" height="4.6" rx="2" fill="#2a2a2a"/>
<path d="M430.0,351.0 L440,351.2 L449.0,352.0 L449.0,356.4 L440,355.8 L430.0,355.2 Z" fill="#111"/>
</g>
</g>
</g>
</svg>
</body></html>
